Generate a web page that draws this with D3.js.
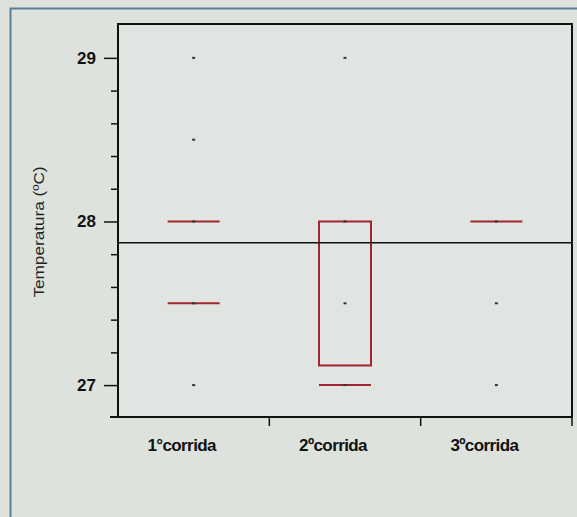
<!DOCTYPE html>
<html>
<head>
<meta charset="utf-8">
<script src="https://cdn.jsdelivr.net/npm/d3@7"></script>
<style>
  body { margin: 0; background: #dde2dd; }
  svg { display: block; font-family: "Liberation Sans", Arial, sans-serif; }
</style>
</head>
<body>
<svg id="chart" width="577" height="517"></svg>
<script>
// categorias e valores
const categories = ["1°corrida", "2ºcorrida", "3ºcorrida"];
const points = [
    [29, 28.5, 28, 27.5, 27],
    [29, 28, 27.5, 27],
    [28, 27.5, 27]
];
// líneas rojas (cuantiles) por corrida
const redLines = [
    [28, 27.5],
    [27],
    [28]
];
// caja de la 2ª corrida
const boxes = [
    null,
    { lo: 27.12, hi: 28 },
    null
];
const grandMean = 27.87;
const yTicks = [27, 28, 29];
const yDomain = [26.805, 29.207];

const svg = d3.select("#chart");
const width = 577, height = 517;
const margin = { top: 24, right: 5, bottom: 100, left: 118 };

// marco azul exterior
svg.append("path")
    .attr("d", `M10.5,${height} V8.5 H${width}`)
    .attr("fill", "none")
    .attr("stroke", "#5a7f98")
    .attr("stroke-width", 2);

const x = d3.scaleBand()
    .domain(categories)
    .range([margin.left, width - margin.right]);

const y = d3.scaleLinear()
    .domain(yDomain)
    .range([height - margin.bottom, margin.top]);

// marco del gráfico
svg.append("rect")
    .attr("x", margin.left)
    .attr("y", margin.top)
    .attr("width", width - margin.right - margin.left)
    .attr("height", height - margin.bottom - margin.top)
    .attr("fill", "#e1e5e1")
    .attr("stroke", "#111")
    .attr("stroke-width", 2);

// eje y
const yAxis = svg.append("g")
    .attr("transform", `translate(${margin.left}, 0)`)
    .call(d3.axisLeft(y).tickValues(yTicks).tickFormat(d3.format("d")).tickSize(14).tickPadding(8));
yAxis.select(".domain").remove();
yAxis.selectAll("line").attr("stroke", "#111").attr("stroke-width", 1.5);
yAxis.selectAll("text")
    .attr("font-size", 17).attr("font-weight", "bold").attr("fill", "#111");

const minor = d3.range(27.2, 29.2, 0.2).filter(v => Math.abs(v - 28) > 0.01 && Math.abs(v - 29) > 0.01);
const yMinor = svg.append("g")
    .attr("transform", `translate(${margin.left}, 0)`)
    .call(d3.axisLeft(y).tickValues(minor).tickFormat("").tickSize(7));
yMinor.select(".domain").remove();
yMinor.selectAll("line").attr("stroke", "#111").attr("stroke-width", 1.5);

// eje x
const xAxis = svg.append("g")
    .attr("transform", `translate(0, ${height - margin.bottom})`)
    .call(d3.axisBottom(x).tickSize(0).tickPadding(22));
xAxis.select(".domain").remove();
xAxis.selectAll("text")
    .attr("font-size", 17).attr("font-weight", "bold").attr("fill", "#111")
    .attr("letter-spacing", -0.6)
    .attr("dx", -12);

const bounds = categories.slice(1).map(c => x(c)).concat([width - margin.right]);
svg.append("g").selectAll("line")
    .data(bounds)
    .join("line")
    .attr("x1", d => d).attr("x2", d => d)
    .attr("y1", height - margin.bottom)
    .attr("y2", height - margin.bottom + 9)
    .attr("stroke", "#111")
    .attr("stroke-width", 1.5);
svg.append("line")
    .attr("x1", margin.left - 8).attr("x2", margin.left)
    .attr("y1", height - margin.bottom).attr("y2", height - margin.bottom)
    .attr("stroke", "#111").attr("stroke-width", 2);

// título eje y
svg.append("text")
    .attr("transform", `translate(44, 232) rotate(-90)`)
    .attr("text-anchor", "middle")
    .attr("font-size", 14)
    .attr("textLength", 131)
    .attr("lengthAdjust", "spacingAndGlyphs")
    .attr("fill", "#222")
    .text("Temperatura (ºC)");

const cx = c => x(c) + x.bandwidth() / 2;
const halfW = 26;

// cajas
categories.forEach((c, i) => {
    const b = boxes[i];
    if (!b) return;
    svg.append("rect")
        .attr("x", cx(c) - halfW)
        .attr("y", y(b.hi))
        .attr("width", halfW * 2)
        .attr("height", y(b.lo) - y(b.hi))
        .attr("fill", "none")
        .attr("stroke", "#a3262c")
        .attr("stroke-width", 2);
});

// líneas rojas
categories.forEach((c, i) => {
    svg.append("g").selectAll("line")
        .data(redLines[i])
        .join("line")
        .attr("x1", cx(c) - halfW)
        .attr("x2", cx(c) + halfW)
        .attr("y1", d => y(d))
        .attr("y2", d => y(d))
        .attr("stroke", "#a3262c")
        .attr("stroke-width", 2);
});

// media global
svg.append("line")
    .attr("x1", margin.left)
    .attr("x2", width - margin.right)
    .attr("y1", y(grandMean))
    .attr("y2", y(grandMean))
    .attr("stroke", "#111")
    .attr("stroke-width", 1.5);

// puntos
categories.forEach((c, i) => {
    svg.append("g").selectAll("rect")
        .data(points[i])
        .join("rect")
        .attr("x", cx(c) - 1.5)
        .attr("y", d => y(d) - 1)
        .attr("width", 3)
        .attr("height", 2)
        .attr("fill", "#333");
});
</script>
</body>
</html>
